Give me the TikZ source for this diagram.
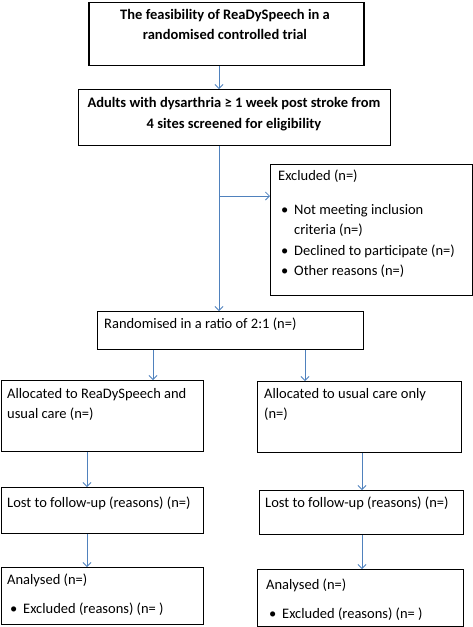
\documentclass[tikz,border=0pt]{standalone}
\usepackage{fontspec}
\setmainfont{Carlito}
\usetikzlibrary{arrows.meta,positioning}
\definecolor{FlowBlue}{HTML}{4F81BD}
\tikzset{
  box/.style={draw=black,line width=0.8pt,anchor=north west,inner sep=0pt},
  txt/.style={anchor=north west,inner sep=0pt,align=left,
              font=\fontsize{14.5}{20.5}\selectfont},
  flow/.style={draw=FlowBlue,line width=0.8pt,-{Straight Barb[length=4pt,width=8pt]}},
}
\newcommand{\bul}{\makebox[16pt][l]{\hspace{3pt}\textbullet}}

\begin{document}
\begin{tikzpicture}[x=1pt,y=-1pt]
  \useasboundingbox (0,0) rectangle (473,627);
  % boxes
  \node[box,line width=1.8pt,minimum width=275pt,minimum height=63pt] (title) at (88,1.5) {};
  \node[box,minimum width=312pt,minimum height=56pt] (screen) at (78,89) {};
  \node[box,minimum width=202pt,minimum height=131pt] (excl) at (270,164) {};
  \node[box,minimum width=266pt,minimum height=38pt] (rand) at (97,311) {};
  \node[box,minimum width=202pt,minimum height=71pt] (allocA) at (0.5,380) {};
  \node[box,minimum width=204pt,minimum height=71pt] (allocB) at (257,381) {};
  \node[box,minimum width=202pt,minimum height=46pt] (lostA) at (0.5,487) {};
  \node[box,minimum width=204pt,minimum height=44pt] (lostB) at (259,490) {};
  \node[box,minimum width=202pt,minimum height=57pt] (anaA) at (0.5,567) {};
  \node[box,minimum width=206pt,minimum height=57pt] (anaB) at (257,569) {};

  % texts
  \node[txt,anchor=north,align=center,font=\bfseries\fontsize{14.5}{20}\selectfont]
    (titletxt) at (225,9) {The feasibility of ReaDySpeech in a\\randomised controlled trial};
  \node[txt,anchor=north,align=center,font=\bfseries\fontsize{14.5}{21}\selectfont]
    (screentxt) at (234,97) {Adults with dysarthria ≥ 1 week post stroke from\\4 sites screened for eligibility};
  \node[txt] (excltxt) at (278,170) {Excluded (n=)\\[13pt]
    \bul Not meeting inclusion\\
    \hspace*{16pt}criteria (n=)\\
    \bul Declined to participate (n=)\\
    \bul Other reasons (n=)};
  \node[txt] (randtxt) at (104,318) {Randomised in a ratio of 2:1 (n=)};
  \node[txt] (allocAtxt) at (7,388) {Allocated to ReaDySpeech and\\usual care (n=)};
  \node[txt] (allocBtxt) at (264,388) {Allocated to usual care only\\(n=)};
  \node[txt] (lostAtxt) at (7,497) {Lost to follow-up (reasons) (n=)};
  \node[txt] (lostBtxt) at (265,497) {Lost to follow-up (reasons) (n=)};
  \node[txt] (anaAtxt) at (7,574) {Analysed (n=)\\[8pt]\bul Excluded (reasons) (n= )};
  \node[txt] (anaBtxt) at (266,579) {Analysed (n=)\\[8pt]\bul Excluded (reasons) (n= )};

  % connectors
  \coordinate (spine) at (219,196);
  \coordinate (colA) at (153,0);
  \coordinate (colB) at (305,0);
  \coordinate (colC) at (87,0);
  \coordinate (colD) at (362,0);
  \draw[flow] (title.south -| spine) -- (screen.north -| spine);
  \draw[flow] (screen.south -| spine) -- (rand.north -| spine);
  \draw[flow] (spine) -- (excl.west |- spine);
  \draw[flow] (rand.south -| colA) -- (allocA.north -| colA);
  \draw[flow] (rand.south -| colB) -- (allocB.north -| colB);
  \draw[flow] (allocA.south -| colC) -- (lostA.north -| colC);
  \draw[flow] (allocB.south -| colD) -- (lostB.north -| colD);
  \draw[flow] (lostA.south -| colC) -- (anaA.north -| colC);
  \draw[flow] (lostB.south -| colD) -- (anaB.north -| colD);
\end{tikzpicture}
\end{document}
